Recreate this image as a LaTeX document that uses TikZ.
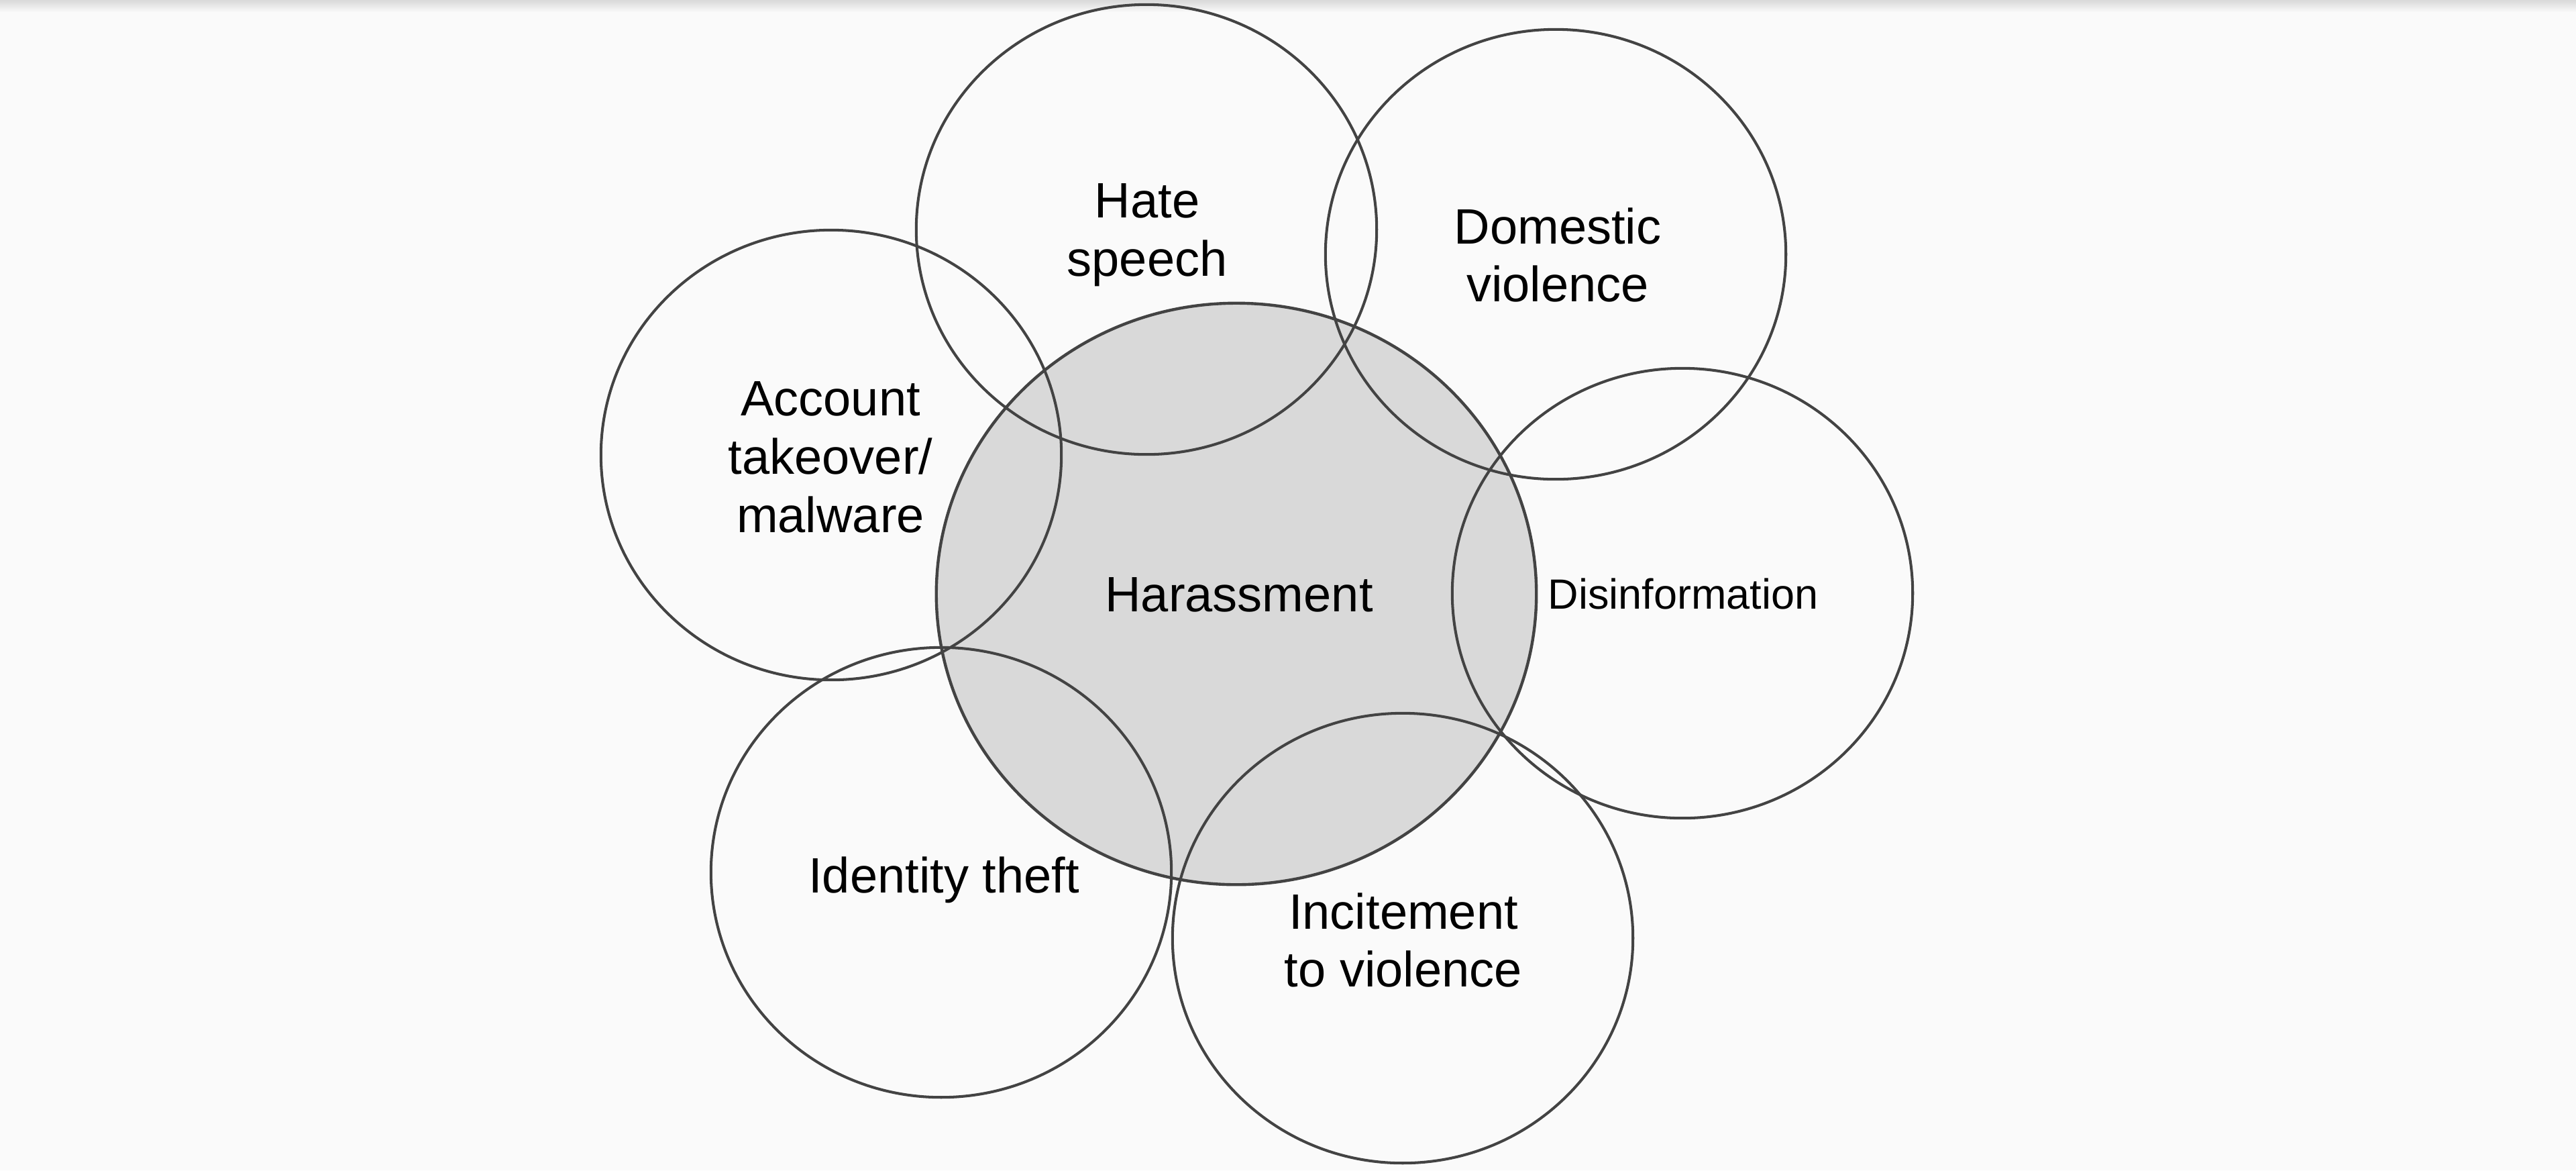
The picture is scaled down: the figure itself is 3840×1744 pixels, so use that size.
\documentclass[tikz,border=0pt]{standalone}
\usepackage{fontspec}
\setmainfont{Liberation Sans}
\usetikzlibrary{shapes.geometric, positioning}
\definecolor{rim}{RGB}{67,67,67}
\definecolor{core}{RGB}{217,217,217}
\definecolor{paper}{RGB}{250,250,250}

\tikzset{
    bubble/.style={ellipse, draw=rim, line width=1.15pt, inner sep=0pt, outer sep=0pt,
        minimum width=6.86cm, minimum height=6.70cm},
    lbl/.style={align=center, inner sep=0pt, font=\fontsize{21.06pt}{24.7pt}\selectfont}
}

\begin{document}
\begin{tikzpicture}[x=0.01cm, y=-0.01cm]
\useasboundingbox (0,0) rectangle (3840,1744);
\fill[paper] (0,0) rectangle (3840,1744);
\shade[top color=black!15, bottom color=paper] (0,0) rectangle (3840,18);
% the shaded core
\node[bubble, fill=core, line width=1.25pt, minimum width=8.94cm, minimum height=8.66cm] (harass) at (1843,885) {};
% the rings around it
\node[bubble] (hate) at (1709,342) {};
\node[bubble] (domestic) at (2319,379) {};
\node[bubble] (account) at (1239,678) {};
\node[bubble] (disinfo) at (2508,884) {};
\node[bubble] (identity) at (1403,1300) {};
\node[bubble] (incite) at (2091,1398) {};
% labels
\node[lbl] (harasstext) at (1847,886) {Harassment};
\node[lbl] (hatetext) at (1710,350) {Hate\\speech};
\node[lbl] (domestictext) at (2322,380) {Domestic\\violence};
\node[lbl] (accounttext) at (1238,681) {Account\\takeover/\\malware};
\node[lbl, font=\fontsize{17.9pt}{21pt}\selectfont] (disinfotext) at (2509,885) {Disinformation};
\node[lbl] (identitytext) at (1407,1311) {Identity theft};
\node[lbl] (incitetext) at (2092,1401) {Incitement\\to violence};
\end{tikzpicture}
\end{document}
